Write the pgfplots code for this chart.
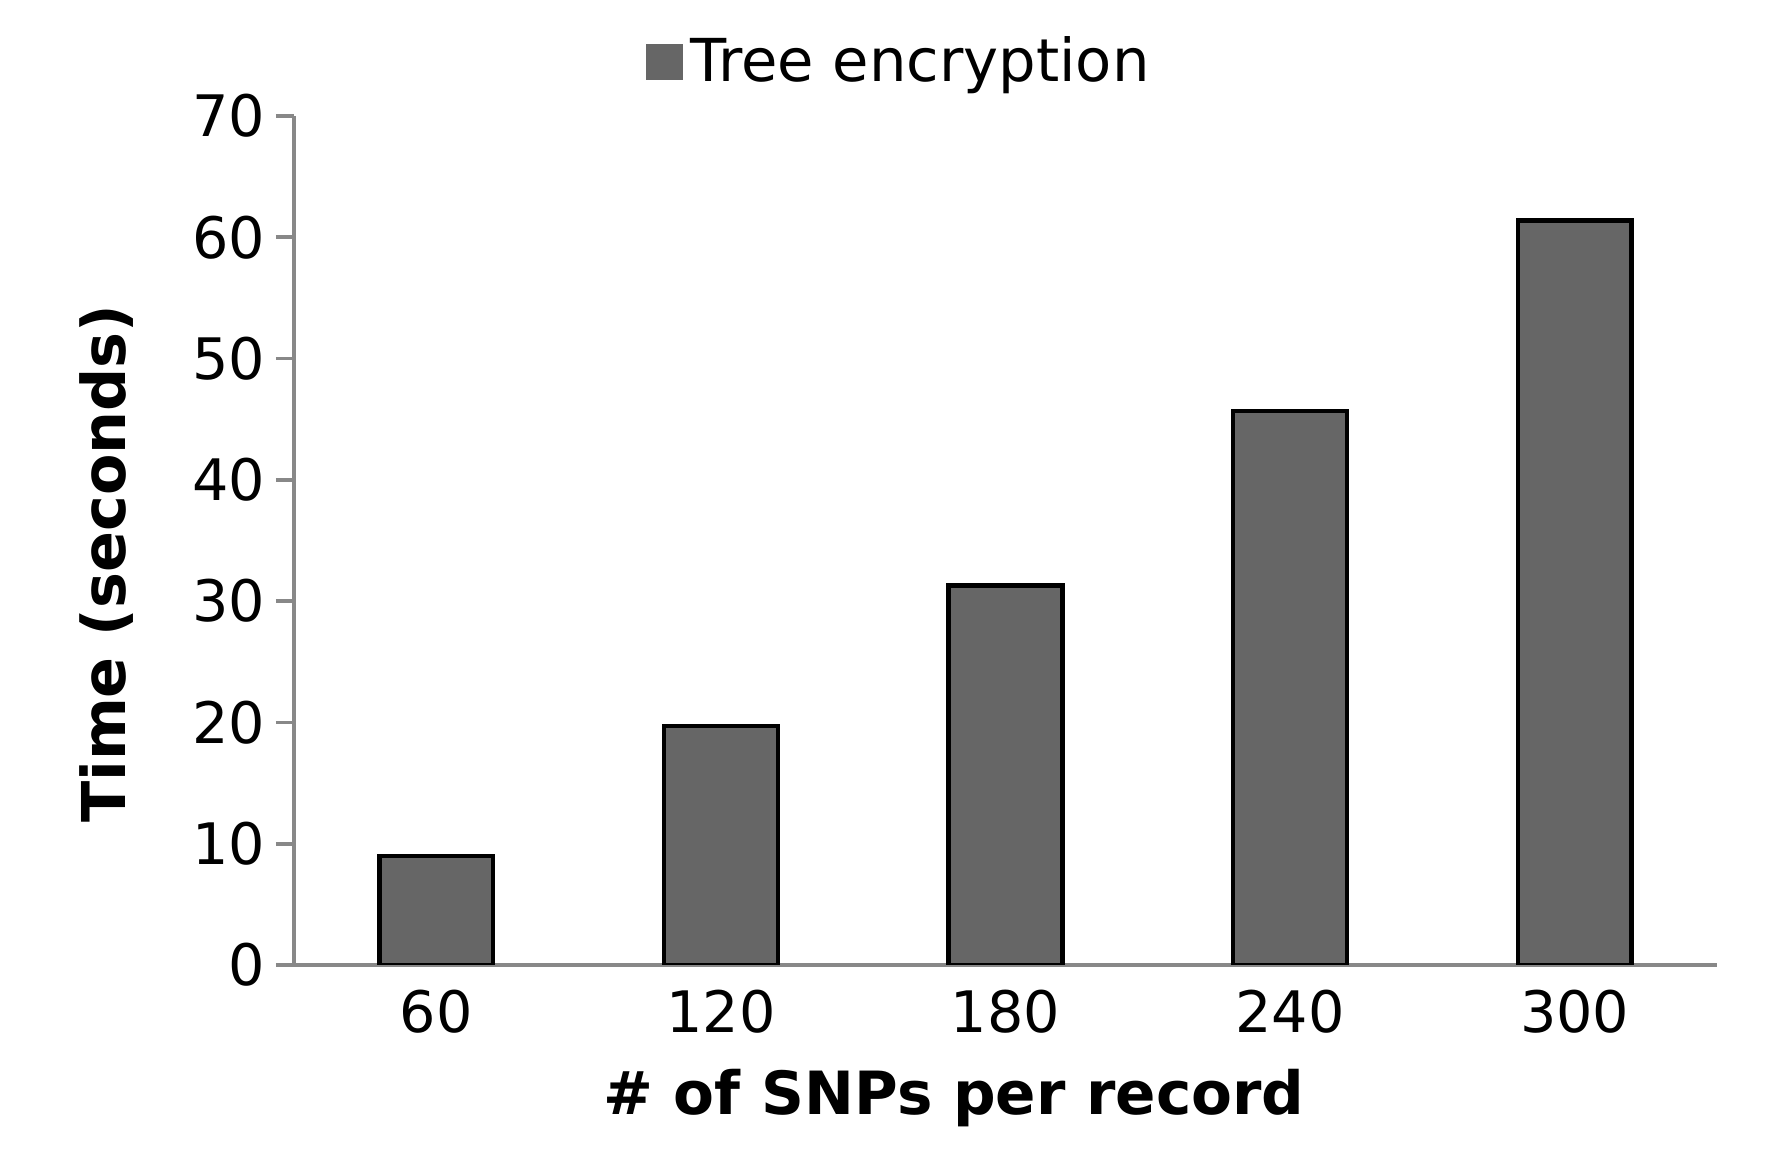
\documentclass[border=0pt]{standalone}
\usepackage{fontspec}
\setmainfont{DejaVu Sans}
\usepackage{pgfplots}
\pgfplotsset{compat=1.18}
\definecolor{barfill}{HTML}{666666}
\definecolor{axgray}{HTML}{888888}

\begin{document}
\begin{tikzpicture}
\begin{axis}[
  scale only axis, width=355.75pt, height=212.25pt,
  ybar, bar width=0.4,
  xmin=-0.5, xmax=4.5, ymin=0, ymax=70,
  xtick=data, xticklabels={60,120,180,240,300},
  ytick={0,10,...,70},
  axis x line=bottom, axis y line=left,
  axis line style={-, draw=axgray, line width=0.9pt},
  xtick style={draw=none},
  ytick style={draw=axgray, line width=0.9pt},
  tick align=outside, major tick length=4.5pt,
  /pgf/number format/assume math mode=true,
  tick label style={font=\fontsize{14.3}{17}\selectfont},
  yticklabel style={xshift=0.75pt},
  xticklabel style={yshift=1.7pt},
  xlabel={\# of SNPs per record},
  ylabel={Time (seconds)},
  every axis x label/.style={at={(axis description cs:0.4638,-0.1567)}, anchor=center, font=\fontsize{14.9}{17}\selectfont\bfseries},
  every axis y label/.style={at={(axis description cs:-0.1314,0.4727)}, anchor=center, rotate=90, font=\fontsize{15.1}{17}\selectfont\bfseries},
  legend style={draw=none, fill=none, font=\fontsize{14.8}{17}\selectfont,
    at={(axis description cs:0.4272,1.0636)}, anchor=center},
  legend image code/.code={\draw[fill=barfill, draw=black!60, line width=0.4pt] (-1pt,-4.4pt) rectangle (7.75pt,4.4pt);},
]
\addplot[fill=barfill, draw=black, line width=1.1pt] coordinates {(0,9.0) (1,19.7) (2,31.3) (3,45.7) (4,61.4)};
\addlegendentry{Tree encryption}
\end{axis}
\pgfresetboundingbox
\path (-73.5pt,-47.25pt) rectangle (369.25pt,241.25pt);
\end{tikzpicture}
\end{document}
